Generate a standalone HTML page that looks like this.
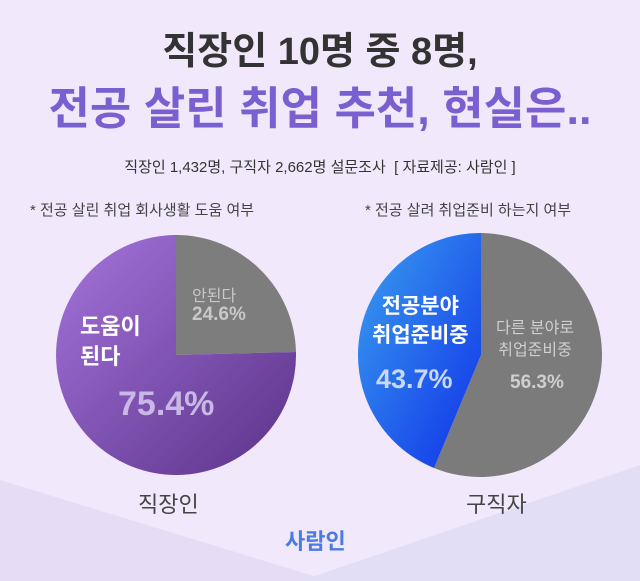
<!DOCTYPE html>
<html><head><meta charset="utf-8"><style>
body{margin:0;width:640px;height:581px;overflow:hidden;background:#f1e9fb;font-family:"Liberation Sans","Noto Sans CJK KR",sans-serif}
.t{position:absolute;white-space:nowrap;font-family:"Liberation Sans","Noto Sans CJK KR",sans-serif}
</style></head><body>
<svg width="640" height="581" style="position:absolute;left:0;top:0">
<defs>
<linearGradient id="pg" x1="0" y1="0" x2="1" y2="1"><stop offset="0" stop-color="#a574dc"/><stop offset="1" stop-color="#5a3288"/></linearGradient>
<linearGradient id="bg" x1="0" y1="0" x2="1" y2="1"><stop offset="0" stop-color="#3aa0f0"/><stop offset="1" stop-color="#1030e8"/></linearGradient>
</defs>
<polygon points="0,480 330,581 0,581" fill="#e6dcf6"/>
<polygon points="640,465 300,581 640,581" fill="#e2def6"/>
<path d="M176,355 L176,235 A120,120 0 0 1 296,352 Z" fill="#7d7d7d"/>
<path d="M176,355 L296,352 A120,120 0 1 1 176,235 Z" fill="url(#pg)"/>
<path d="M481,355 L481,233 A122,122 0 1 1 434,468 Z" fill="#7b7b7b"/>
<path d="M481,355 L434,468 A122,122 0 0 1 481,233 Z" fill="url(#bg)"/>
</svg>
<div class="t" style="left:0;width:640px;text-align:center;top:20px;font-size:38px;font-weight:bold;color:#333">직장인 10명 중 8명,</div>
<div class="t" style="left:0;width:640px;text-align:center;top:72px;font-size:45px;font-weight:bold;color:#7a5fd0">전공 살린 취업 추천, 현실은..</div>
<div class="t" style="left:0;width:640px;text-align:center;top:156px;font-size:15px;color:#333">직장인 1,432명, 구직자 2,662명 설문조사 &nbsp;[ 자료제공: 사람인 ]</div>
<div class="t" style="left:30px;top:199px;font-size:15px;color:#444">* 전공 살린 취업 회사생활 도움 여부</div>
<div class="t" style="left:365px;top:199px;font-size:15px;color:#444">* 전공 살려 취업준비 하는지 여부</div>
<div class="t" style="left:192px;top:282px;font-size:16px;color:#c8c8c8">안된다</div>
<div class="t" style="left:192px;top:304px;font-size:19px;font-weight:bold;color:#c8c8c8">24.6%</div>
<div class="t" style="left:80px;top:312px;font-size:22px;font-weight:bold;color:#fff;line-height:30px">도움이<br>된다</div>
<div class="t" style="left:118px;top:385px;font-size:34px;font-weight:bold;color:#c9b8e6">75.4%</div>
<div class="t" style="left:372px;top:292px;font-size:21px;font-weight:bold;color:#fff;line-height:29px;text-align:center">전공분야<br>취업준비중</div>
<div class="t" style="left:376px;top:364px;font-size:27px;font-weight:bold;color:#c9d8f4">43.7%</div>
<div class="t" style="left:496px;top:318px;font-size:16px;color:#cfcfcf;line-height:22px;text-align:center">다른 분야로<br>취업준비중</div>
<div class="t" style="left:510px;top:372px;font-size:19px;font-weight:bold;color:#cfcfcf">56.3%</div>
<div class="t" style="left:138px;top:487px;font-size:22px;color:#444">직장인</div>
<div class="t" style="left:466px;top:487px;font-size:22px;color:#444">구직자</div>
<div class="t" style="left:285px;top:524px;font-size:22px;font-weight:bold;color:#4a7be0">사람인</div>
</body></html>
